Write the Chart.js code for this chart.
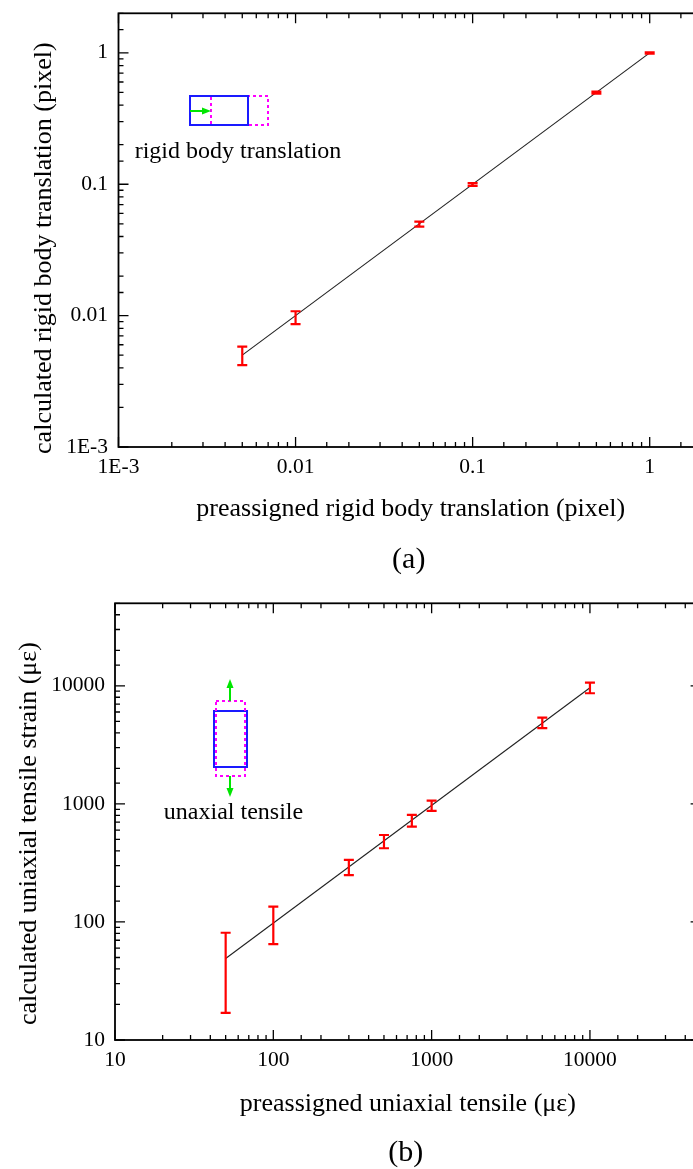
<!DOCTYPE html>
<html lang="en">
<head>
<meta charset="UTF-8" />
<title>Rigid body translation and uniaxial tensile tests</title>
<script src="https://cdn.jsdelivr.net/npm/chart.js@4"></script>
<style>
  body { margin: 0; background: #fff; }
  .page { width: 693px; height: 1169px; overflow: hidden; }
  canvas { display: block; }
</style>
</head>
<body>
<div class="page">
  <canvas id="translationChart" width="720" height="580"></canvas>
  <canvas id="tensileChart" width="720" height="589"></canvas>
</div>

<script>
// (a) rigid body translation, in pixels
const translationSet  = [0.005, 0.01, 0.05, 0.1, 0.5, 1];
const translationMean = [0.005, 0.0097, 0.0498, 0.0995, 0.499, 0.998];
const translationErr  = [0.0008, 0.0011, 0.0022, 0.0025, 0.009, 0.011];
const translationFitX = [0.005, 1];
const translationFitY = [0.005, 1];

// (b) uniaxial tensile, in microstrain
const tensileSet  = [50, 100, 300, 500, 750, 1000, 5000, 10000];
const tensileMean = [49, 100, 292, 483, 724, 970, 4880, 9650];
const tensileErr  = [32, 35, 43, 62, 82, 97, 500, 1000];
const tensileFitX = [50, 10000];
const tensileFitY = [49, 9620];

const SERIF = "'Liberation Serif', 'Times New Roman', serif";
Chart.defaults.font.family = SERIF;
Chart.defaults.color = '#000';

function isDecade(v) {
  const e = Math.log10(v);
  return Math.abs(e - Math.round(e)) < 1e-6;
}

// only powers of ten get a label: 1E-3, 0.01, 0.1, 1, 10, ...
function decadeLabel(v) {
  if (!isDecade(v)) return '';
  const e = Math.round(Math.log10(v));
  if (e <= -3) return '1E' + e;
  if (e < 0) return Math.pow(10, e).toFixed(-e);
  return String(Math.pow(10, e));
}

function points(xs, ys) {
  return xs.map((x, i) => ({ x: x, y: ys[i] }));
}

// red error bars with short caps
const errorBars = {
  id: 'errorBars',
  afterDatasetsDraw(chart) {
    const { ctx, scales: { x, y } } = chart;
    ctx.save();
    chart.data.datasets.forEach(ds => {
      if (!ds.errors) return;
      ctx.strokeStyle = '#ff0000';
      ctx.lineWidth = 2.2;
      ds.data.forEach((p, i) => {
        const px = x.getPixelForValue(p.x);
        const top = y.getPixelForValue(p.y + ds.errors[i]);
        const bot = y.getPixelForValue(p.y - ds.errors[i]);
        ctx.beginPath();
        ctx.moveTo(px, top); ctx.lineTo(px, bot);
        ctx.moveTo(px - 5, top); ctx.lineTo(px + 5, top);
        ctx.moveTo(px - 5, bot); ctx.lineTo(px + 5, bot);
        ctx.stroke();
      });
    });
    ctx.restore();
  }
};

function arrow(ctx, x0, y0, x1, y1) {
  const ang = Math.atan2(y1 - y0, x1 - x0);
  const len = 9, half = 3.5;
  const bx = x1 - len * Math.cos(ang), by = y1 - len * Math.sin(ang);
  ctx.strokeStyle = '#00e600';
  ctx.fillStyle = '#00e600';
  ctx.lineWidth = 2;
  ctx.beginPath();
  ctx.moveTo(x0, y0); ctx.lineTo(bx, by);
  ctx.stroke();
  ctx.beginPath();
  ctx.moveTo(x1, y1);
  ctx.lineTo(bx + half * Math.sin(ang), by - half * Math.cos(ang));
  ctx.lineTo(bx - half * Math.sin(ang), by + half * Math.cos(ang));
  ctx.closePath();
  ctx.fill();
}

// little rectangle shifted to the right
function drawShiftSketch(ctx) {
  ctx.lineWidth = 2;
  ctx.setLineDash([3, 3]);
  ctx.strokeStyle = '#ff00ff';
  ctx.strokeRect(211, 96, 57, 29);
  ctx.setLineDash([]);
  ctx.strokeStyle = '#1a1aff';
  ctx.strokeRect(190, 96, 58, 29);
  arrow(ctx, 190, 111, 211, 111);
}

// little bar pulled at both ends
function drawStretchSketch(ctx) {
  ctx.lineWidth = 2;
  ctx.strokeStyle = '#1a1aff';
  ctx.strokeRect(214, 131, 33, 56);
  ctx.setLineDash([3, 3]);
  ctx.strokeStyle = '#ff00ff';
  ctx.strokeRect(216, 121, 29, 75);
  ctx.setLineDash([]);
  arrow(ctx, 230, 121, 230, 99);
  arrow(ctx, 230, 196, 230, 217);
}

// closed frame with inward ticks on all four sides, rotated y title, caption and sketch
const frame = {
  id: 'frame',
  afterDraw(chart, args, o) {
    const { ctx, chartArea: a, scales: { x, y } } = chart;
    ctx.save();
    ctx.strokeStyle = '#000';
    ctx.lineWidth = 1.3;
    ctx.beginPath();
    x.ticks.forEach(t => {
      const px = x.getPixelForValue(t.value);
      const len = isDecade(t.value) ? 10 : 5;
      ctx.moveTo(px, a.bottom); ctx.lineTo(px, a.bottom - len);
      ctx.moveTo(px, a.top); ctx.lineTo(px, a.top + len);
    });
    y.ticks.forEach(t => {
      const py = y.getPixelForValue(t.value);
      const len = isDecade(t.value) ? 10 : 5;
      ctx.moveTo(a.left, py); ctx.lineTo(a.left + len, py);
      ctx.moveTo(a.right, py); ctx.lineTo(a.right - len, py);
    });
    ctx.stroke();
    ctx.lineWidth = 1.8;
    ctx.strokeRect(a.left, a.top, a.right - a.left, a.bottom - a.top);

    ctx.fillStyle = '#000';
    ctx.textAlign = 'center';
    ctx.textBaseline = 'middle';
    ctx.font = '26px ' + SERIF;
    ctx.save();
    ctx.translate(o.yTitleX, (a.top + a.bottom) / 2 + o.yTitleDy);
    ctx.rotate(-Math.PI / 2);
    ctx.fillText(o.yTitle, 0, 0);
    ctx.restore();

    ctx.font = '30px ' + SERIF;
    ctx.fillText(o.caption, (a.left + a.right) / 2 + o.captionDx, o.captionY);

    ctx.font = '24px ' + SERIF;
    ctx.fillText(o.note, o.noteX, o.noteY);

    if (o.sketch === 'shift') drawShiftSketch(ctx);
    else drawStretchSketch(ctx);
    ctx.restore();
  }
};

function logAxis(min, max, title, box) {
  return {
    type: 'logarithmic',
    min: min,
    max: max,
    grid: { display: false, drawTicks: false },
    border: { display: false },
    ticks: {
      autoSkip: false,
      maxRotation: 0,
      minRotation: 0,
      padding: box.tickPad,
      font: { size: 21.5 },
      color: '#000',
      callback: v => decadeLabel(v)
    },
    title: title ? {
      display: true,
      text: title,
      font: { size: 26 },
      color: '#000',
      padding: { top: 0, bottom: box.titlePad }
    } : { display: false },
    afterFit(scale) {
      if (scale.isHorizontal()) scale.height = box.size;
      else scale.width = box.size;
      // the frame is placed by layout padding alone
      scale.paddingTop = 0;
      scale.paddingBottom = 0;
      scale.paddingLeft = 0;
      scale.paddingRight = 0;
    }
  };
}

function makeChart(id, c) {
  return new Chart(document.getElementById(id), {
    type: 'scatter',
    data: {
      datasets: [
        {
          type: 'line',
          data: points(c.fitX, c.fitY),
          borderColor: '#222',
          borderWidth: 1.1,
          pointRadius: 0,
          fill: false
        },
        {
          data: points(c.set, c.mean),
          errors: c.err,
          pointRadius: 0,
          showLine: false
        }
      ]
    },
    options: {
      responsive: false,
      animation: false,
      layout: { padding: { top: c.top, right: c.right, left: 0, bottom: 0 } },
      plugins: {
        legend: { display: false },
        tooltip: { enabled: false },
        frame: c.frame
      },
      scales: {
        x: logAxis(c.xMin, c.xMax, c.xTitle, c.xBox),
        y: logAxis(c.yMin, c.yMax, null, c.yBox)
      }
    },
    plugins: [errorBars, frame]
  });
}

makeChart('translationChart', {
  set: translationSet, mean: translationMean, err: translationErr,
  fitX: translationFitX, fitY: translationFitY,
  xMin: 0.001, xMax: 2, yMin: 0.001, yMax: 2,
  xTitle: 'preassigned rigid body translation (pixel)',
  top: 13.3, right: 17,
  xBox: { size: 133, tickPad: 7.5, titlePad: 55 },
  yBox: { size: 118.5, tickPad: 10.5 },
  frame: {
    yTitle: 'calculated rigid body translation (pixel)',
    yTitleX: 44, yTitleDy: 18,
    caption: '(a)', captionDx: -2, captionY: 560,
    note: 'rigid body translation', noteX: 238, noteY: 152,
    sketch: 'shift'
  }
});

makeChart('tensileChart', {
  set: tensileSet, mean: tensileMean, err: tensileErr,
  fitX: tensileFitX, fitY: tensileFitY,
  xMin: 10, xMax: 50000, yMin: 10, yMax: 50000,
  xTitle: 'preassigned uniaxial tensile (\u03bc\u03b5)',
  top: 23.3, right: 19.4,
  xBox: { size: 129, tickPad: 7.5, titlePad: 49 },
  yBox: { size: 115, tickPad: 10 },
  frame: {
    yTitle: 'calculated uniaxial tensile strain (\u03bc\u03b5)',
    yTitleX: 29, yTitleDy: 12,
    caption: '(b)', captionDx: -2, captionY: 573,
    note: 'unaxial tensile', noteX: 233.5, noteY: 233,
    sketch: 'stretch'
  }
});
</script>
</body>
</html>
